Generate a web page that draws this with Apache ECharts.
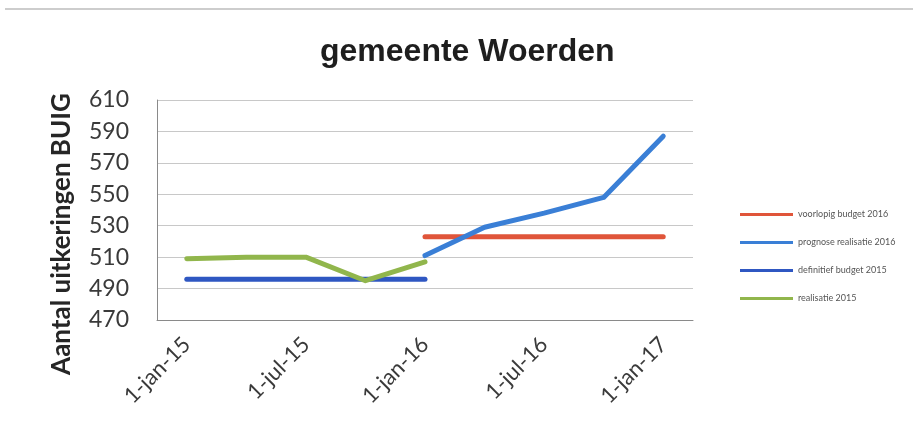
<!DOCTYPE html>
<html lang="nl">
<head>
    <meta charset="UTF-8">
    <title>gemeente Woerden</title>
    <script src="https://cdn.jsdelivr.net/npm/echarts@6.0.0/dist/echarts.min.js"></script>
    <style>
        html, body { margin: 0; padding: 0; background: #fff; }
    </style>
</head>
<body>
<div id="main" style="width: 913px;height:437px;"></div>

<script type="text/javascript">
    // kwartalen (x-as)
    var dates = ['1-jan-15','1-apr-15','1-jul-15','1-okt-15','1-jan-16','1-apr-16','1-jul-16','1-okt-16','1-jan-17'];
    var yTicks = [470, 490, 510, 530, 550, 570, 590, 610];

    var voorlopigBudget2016   = [null, null, null, null, 523, 523, 523, 523, 523];
    var prognoseRealisatie2016 = [null, null, null, null, 511, 529, 538, 548, 587];
    var definitiefBudget2015  = [496, 496, 496, 496, 496, null, null, null, null];
    var realisatie2015        = [509, 510, 510, 495, 507, null, null, null, null];

    var legendNames = ['voorlopig budget 2016', 'prognose realisatie 2016', 'definitief budget 2015', 'realisatie 2015'];

    var myChart = echarts.init(document.getElementById('main'));

    function lijn(name, data, color) {
        return {
            name: name,
            type: 'line',
            data: data,
            showSymbol: false,
            symbol: 'none',
            lineStyle: { width: 5, color: color, cap: 'round', join: 'round' },
            itemStyle: { color: color },
            animation: false
        };
    }

    var option = {
        backgroundColor: '#ffffff',
        title: {
            text: 'gemeente Woerden',
            left: 315,
            top: 31,
            textStyle: {
                fontFamily: 'Liberation Sans',
                fontWeight: 'bold',
                fontSize: 32,
                color: '#1e1e1e'
            }
        },
        legend: {
            data: legendNames,
            orient: 'vertical',
            left: 735,
            top: 205,
            icon: 'rect',
            itemWidth: 53,
            itemHeight: 3,
            itemGap: 19,
            textStyle: { fontFamily: 'Lato', fontSize: 9, color: '#555' }
        },
        grid: { left: 157, top: 100, right: 220, bottom: 117 },
        xAxis: {
            type: 'category',
            data: dates,
            boundaryGap: true,
            axisLine: { lineStyle: { color: '#8a8a8a' } },
            axisTick: { show: false },
            axisLabel: {
                interval: 1,
                rotate: 45,
                margin: 21,
                fontFamily: 'Lato',
                fontSize: 22,
                color: '#3a3a3a'
            }
        },
        yAxis: {
            type: 'value',
            min: yTicks[0],
            max: yTicks[yTicks.length - 1],
            interval: 20,
            axisLine: { show: true, lineStyle: { color: '#8a8a8a' } },
            axisTick: { show: false },
            axisLabel: {
                margin: 28,
                fontFamily: 'Lato',
                fontSize: 23,
                color: '#3a3a3a'
            },
            splitLine: { lineStyle: { color: '#c8c8c8' } }
        },
        graphic: [
            {
                type: 'line',
                shape: { x1: 5, y1: 9, x2: 913, y2: 9 },
                style: { stroke: '#bdbdbd', lineWidth: 1.5 }
            },
            {
                type: 'text',
                x: 62,
                y: 234,
                rotation: Math.PI / 2,
                style: {
                    text: 'Aantal uitkeringen BUIG',
                    font: 'bold 26px Lato',
                    fill: '#262626',
                    textAlign: 'center',
                    textVerticalAlign: 'middle'
                }
            }
        ],
        series: [
            lijn('voorlopig budget 2016', voorlopigBudget2016, '#e0553a'),
            lijn('definitief budget 2015', definitiefBudget2015, '#2f57c2'),
            lijn('realisatie 2015', realisatie2015, '#91b64c'),
            lijn('prognose realisatie 2016', prognoseRealisatie2016, '#3a7fd6')
        ]
    };
    // grafiek tekenen
    myChart.setOption(option);
</script>
</body>
</html>
